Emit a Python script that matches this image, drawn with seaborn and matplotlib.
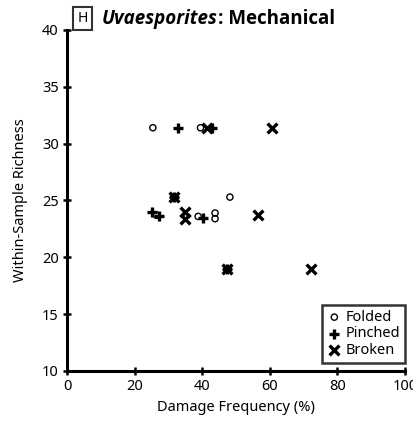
import matplotlib
matplotlib.use("Agg")
import matplotlib.pyplot as plt
import seaborn as sns
import pandas as pd

folded_x = [25.4, 39.5, 48.2, 26.5, 35.0, 38.8, 43.8, 43.8]
folded_y = [31.4, 31.4, 25.3, 23.7, 23.7, 23.6, 23.9, 23.4]
pinched_x = [32.9, 43.0, 31.8, 25.1, 27.1, 40.3, 47.2]
pinched_y = [31.4, 31.4, 25.3, 24.0, 23.6, 23.5, 19.0]
broken_x = [41.5, 60.6, 31.8, 35.0, 35.0, 56.5, 72.3, 47.2]
broken_y = [31.4, 31.4, 25.3, 24.0, 23.4, 23.7, 19.0, 19.0]

x_ticks = [0, 20, 40, 60, 80, 100]
y_ticks = [10, 15, 20, 25, 30, 35, 40]

sns.set_style("ticks")
plt.rcParams['font.family'] = ['Noto Sans', 'DejaVu Sans']
plt.rcParams['text.color'] = 'black'
plt.rcParams['axes.labelcolor'] = 'black'

fig = plt.figure(figsize=(4.13, 4.25), dpi=100)
ax = fig.add_axes([67/413, 1 - 371/425, (405-67)/413, (371-30)/425])

sns.scatterplot(x=folded_x, y=folded_y, ax=ax, marker='o', s=20,
                facecolor='none', edgecolor='black', linewidth=1.0, label='Folded')
sns.scatterplot(x=pinched_x, y=pinched_y, ax=ax, marker='+', s=60,
                color='black', linewidth=2.4, label='Pinched')
sns.scatterplot(x=broken_x, y=broken_y, ax=ax, marker='x', s=50,
                color='black', linewidth=2.4, label='Broken')

ax.set_xlim(0, 100)
ax.set_ylim(10, 40)
ax.set_xticks(x_ticks)
ax.set_yticks(y_ticks)
ax.tick_params(direction='inout', length=6, width=1.8, labelsize=10.5, colors='black', pad=3)
for s in ['top', 'right']:
    ax.spines[s].set_visible(False)
for s in ['left', 'bottom']:
    ax.spines[s].set_linewidth(2.2)
    ax.spines[s].set_color('black')
ax.set_xlabel("Damage Frequency (%)", fontsize=10.5, labelpad=4)
ax.set_ylabel("Within-Sample Richness", fontsize=10.5, labelpad=10)

leg = ax.legend(loc='lower right', frameon=True, fontsize=10.5, handletextpad=0.25,
                borderpad=0.35, labelspacing=0.1, handlelength=1.0,
                fancybox=False, borderaxespad=0.0, bbox_to_anchor=(1.0, 8/341))
leg.get_frame().set_edgecolor('black')
leg.get_frame().set_linewidth(1.8)

# Title pieces
fig.text(82.5/413, 1 - 18.5/425, "H", fontsize=10, ha='center', va='center', color='black',
         bbox=dict(boxstyle='square,pad=0.32', facecolor='white', edgecolor='#333333', linewidth=1.5))
fig.canvas.draw()
r = fig.canvas.get_renderer()
t1 = fig.text(102/413, 1 - 19/425, "Uvaesporites", fontsize=13.5, fontweight='bold',
              fontstyle='italic', ha='left', va='center', color='black',
              family=['Open Sans', 'DejaVu Sans'])
bb = t1.get_window_extent(r)
fig.text(bb.x1/fig.bbox.width, 1 - 19/425, ": Mechanical", fontsize=13.5, fontweight='bold',
         ha='left', va='center', color='black', family=['Open Sans', 'DejaVu Sans'])

fig.savefig("out.png", dpi=100)
